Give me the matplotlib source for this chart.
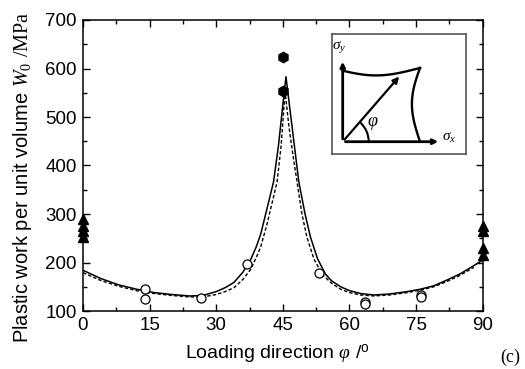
import matplotlib
matplotlib.use("Agg")
import matplotlib.pyplot as plt
import numpy as np
from matplotlib.ticker import MultipleLocator
from matplotlib.patches import FancyArrowPatch, Arc

plt.rcParams['font.family'] = ['Liberation Sans', 'DejaVu Sans']
plt.rcParams['mathtext.fontset'] = 'custom'
plt.rcParams['mathtext.rm'] = 'Liberation Serif'
plt.rcParams['mathtext.it'] = 'Liberation Serif:italic'
plt.rcParams['mathtext.sf'] = 'Liberation Sans'

# experimental data
tri0_x = [0, 0, 0, 0]
tri0_y = [289, 276, 264, 252]
tri90_x = [90, 90, 90, 90]
tri90_y = [275, 265, 230, 215]
hex_x = [45, 45]
hex_y = [624, 554]
circ_x = [14, 14, 26.6, 37, 53.2, 63.5, 63.5, 76, 76]
circ_y = [145, 125, 126, 196, 179, 119, 114, 134, 128]

# model curves
solid_x = [0, 4, 8, 12, 16, 20, 24, 27, 30, 32, 34, 36, 37.7, 39, 40, 41.4, 42.9, 44, 45, 45.7,
           46.5, 47.5, 48.6, 50, 51.2, 52.8, 54.6, 56, 58, 60, 62.5, 65.5, 69, 73, 76, 79,
           82, 85, 88.8, 90]
solid_y = [184, 167, 154, 145, 138, 134, 131, 132, 140, 148, 159, 180, 205, 232, 258, 310, 366, 440, 525, 583,
           523, 448, 366, 300, 253, 208, 176, 162, 150, 142, 136, 133, 135, 140, 145, 152,
           164, 177, 198, 205]
dash_x = [0, 4, 8, 12, 16, 20, 24, 27, 30, 32, 34, 36, 37.7, 39, 40, 41.4, 43.7, 44.6, 45.5,
          46.4, 47.3, 48.2, 49.3, 50.4, 52, 54, 56, 58, 60, 62.5, 65.5, 69, 73, 76, 79,
          82, 85, 88]
dash_y = [179, 163, 151, 142, 136, 132, 129, 129, 134, 140, 148, 165, 185, 210, 232, 278, 366, 440, 552,
          478, 420, 366, 300, 253, 207, 174, 157, 145, 138, 133, 131, 133, 138, 143, 150,
          161, 174, 190]

fig = plt.figure(figsize=(5.25, 3.69), dpi=100)
ax = fig.add_axes([83/525, 1-311/369, (482.7-83)/525, (311-20)/369])

ax.plot(solid_x, solid_y, color='black', lw=1.1)
ax.plot(dash_x, dash_y, color='black', lw=1.0, ls=(0, (2.5, 1.5)))
ax.plot(circ_x, circ_y, 'o', ms=6.5, mfc='white', mec='black', mew=0.9, ls='none')
ax.plot(hex_x, hex_y, 'h', ms=7.5, color='black', ls='none')
ax.plot(tri0_x, tri0_y, '^', ms=7.5, color='black', ls='none', clip_on=False)
ax.plot(tri90_x, tri90_y, '^', ms=7.5, color='black', ls='none', clip_on=False)

ax.set_xlim(0, 90)
ax.set_ylim(100, 700)
ax.xaxis.set_major_locator(MultipleLocator(15))
ax.xaxis.set_minor_locator(MultipleLocator(7.5))
ax.yaxis.set_major_locator(MultipleLocator(100))
ax.yaxis.set_minor_locator(MultipleLocator(50))
ax.tick_params(which='both', direction='in', top=True, right=True, labelsize=13.5, width=1)
ax.tick_params(which='major', length=5, pad=4.5)
ax.tick_params(which='minor', length=3)
for s in ax.spines.values():
    s.set_linewidth(1.1)
ax.set_xlabel(r"Loading direction $\varphi$ /$^\mathsf{o}$", fontsize=14)
ax.xaxis.set_label_coords(0.487, -0.108)
ax.set_ylabel(r"Plastic work per unit volume $W_0$ $\mathrm{/MPa}$", fontsize=14.5)
ax.yaxis.set_label_coords(-0.123, 0.459)

fig.text(510/525, 1-357/369, "(c)", fontsize=13, family='Liberation Serif', ha='center', va='center')

# inset schematic
ins = fig.add_axes([332/525, 1-154/369, (465.7-332)/525, (154-34.3)/369])
ins.set_xlim(332, 465.7)
ins.set_ylim(154, 34.3)
ins.set_xticks([])
ins.set_yticks([])
for s in ins.spines.values():
    s.set_edgecolor('#555555')
    s.set_linewidth(1.2)
ox, oy = 342.7, 141.7
ins.add_patch(FancyArrowPatch((ox, oy), (ox, 59), arrowstyle='-|>', mutation_scale=7, lw=2.0, color='black'))
ins.add_patch(FancyArrowPatch((ox, oy), (441, oy), arrowstyle='-|>', mutation_scale=7, lw=2.0, color='black'))
ins.add_patch(FancyArrowPatch((ox, oy), (401, 74.5), arrowstyle='-|>', mutation_scale=9, lw=1.6, color='black'))
t = np.linspace(0, 1, 40)
# top boundary
tx = ox + (420 - ox) * t
ty = 70.7 + (68 - 70.7) * t + 7.0 * np.sin(np.pi * t) * (1 - 0.2 * t) - 1.5 * t * (1 - t)
ins.plot(tx, ty, color='black', lw=1.7)
# right boundary
ry = 68 + (oy - 68) * t
rx = 420 - 8.5 * np.sin(np.pi * t) * (1 - 0.1 * t)
ins.plot(rx, ry, color='black', lw=1.7)
ins.add_patch(Arc((ox, oy), 52, 52, theta1=-48, theta2=0, color='black', lw=1.5))
ins.text(373, 124, r"$\varphi$", fontsize=13, ha='center', va='center')
ins.text(339, 47, r"$\sigma_y$", fontsize=11, ha='center', va='center')
ins.text(449, 138, r"$\sigma_x$", fontsize=11, ha='center', va='center')

fig.savefig("out.png", dpi=100)
